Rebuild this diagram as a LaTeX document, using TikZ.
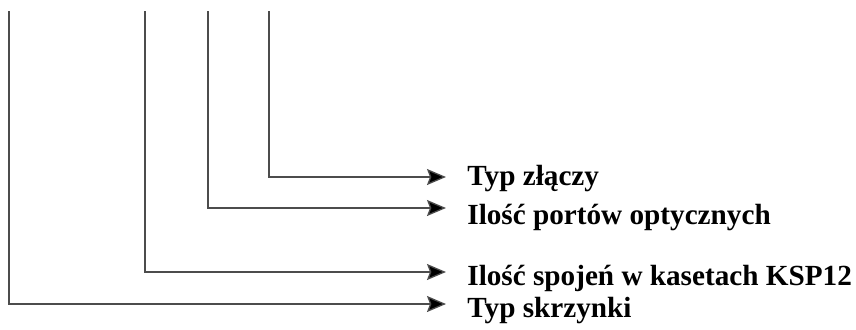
\documentclass[tikz,border=0pt]{standalone}
\usepackage{fontspec}
\setmainfont{Liberation Serif}
\usepackage{tikz}
\usetikzlibrary{arrows.meta}

\tikzset{
  conn/.style={draw=black!70,line width=0.65pt,-{Stealth[length=9.5pt,width=8pt,inset=1.5pt,fill=black]}},
  lab/.style={anchor=base west,inner sep=0pt,font=\bfseries\fontsize{14.6}{17}\selectfont}
}

\begin{document}
\begin{tikzpicture}[x=0.5pt,y=0.5pt]
\useasboundingbox (0,0) rectangle (856,329);
\foreach \n/\x/\y/\yt/\lab in {1/269/152/144/Typ złączy,2/208/121/105/Ilość portów optycznych,3/145/57/44/Ilość spojeń w kasetach KSP12,4/9/25/12/Typ skrzynki}{
  \coordinate (top\n) at (\x,318);
  \coordinate (tip\n) at (446,\y);
  \node[lab] (lab\n) at (467,\yt) {\lab};
  \draw[conn] (top\n) |- (tip\n);
}
\end{tikzpicture}
\end{document}
